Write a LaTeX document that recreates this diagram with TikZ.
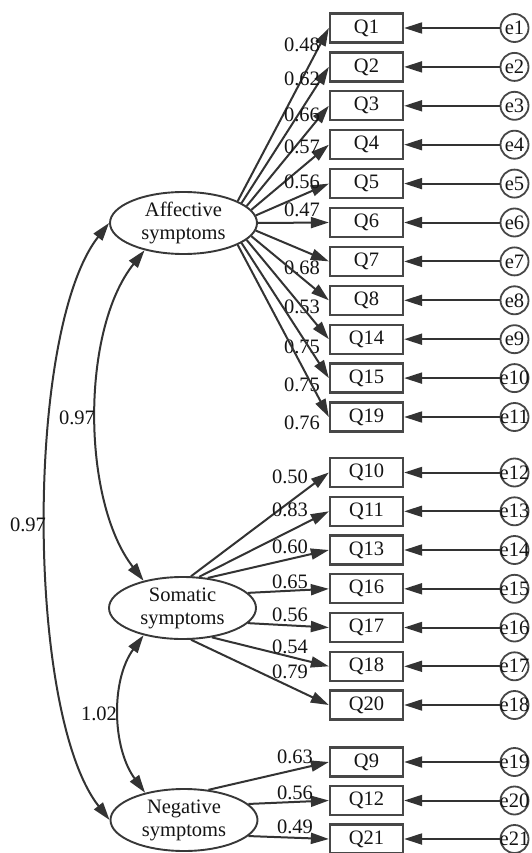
\documentclass[tikz,border=0pt]{standalone}
\usepackage{fontspec}
\setmainfont{Liberation Serif}
\usetikzlibrary{arrows.meta,shapes.geometric}
\begin{document}
\begin{tikzpicture}[x=1pt,y=-1pt,
  font=\fontsize{20.5}{22}\selectfont,
  lat/.style={ellipse,draw=black!78,line width=1.9pt,minimum width=147pt,minimum height=62pt,
    inner sep=0pt,align=center,text=black!92,font=\fontsize{20.5}{23}\selectfont},
  obs/.style={rectangle,draw=black!72,line width=2.3pt,minimum width=73pt,minimum height=29pt,
    inner sep=0pt,text=black!92},
  err/.style={circle,draw=black!72,line width=1.8pt,minimum size=28pt,inner sep=0pt,text=black!92},
  tipm/.tip={Triangle[length=18pt,width=11pt]},
  load/.style={draw=black!80,line width=2pt,-tipm},
  cov/.style={draw=black!80,line width=2pt,tipm-tipm},
  coef/.style={inner sep=0pt,text=black!92},
]
\fill[white] (0,0) rectangle (532,853);
\useasboundingbox (0,0) rectangle (532,853);

% latent factors
\node[lat] (aff) at (183.5,223) {Affective\\symptoms};
\node[lat] (som) at (182.5,608) {Somatic\\symptoms};
\node[lat] (neg) at (184,820) {Negative\\symptoms};

% affective indicators: name / y / start angle / loading / label y / error
\foreach \q/\y/\a/\v/\ly/\e in {
  Q1/28/22/0.48/45/1, Q2/66.9/19/0.62/79/2, Q3/105.8/15/0.66/115/3,
  Q4/144.7/11/0.57/147/4, Q5/183.6/6/0.56/182/5, Q6/222.5/0/0.47/210/6,
  Q7/261.4/-6/0.68/268/7, Q8/300.3/-11/0.53/307/8, Q14/339.2/-15/0.75/347/9,
  Q15/378.1/-19/0.75/385/10, Q19/417/-22/0.76/423/11}{
  \node[obs] (\q) at (366.5,\y) {\q};
  \node[err] (e\e) at (514.5,\y) {\makebox[0pt]{e\e}};
  \draw[load] (e\e) -- (\q);
  \draw[load] (aff.\a) -- (\q.west);
  \node[coef] (c\q) at (302,\ly) {\v};
}

% somatic indicators
\foreach \q/\y/\a/\v/\ly/\e in {
  Q10/472.5/75/0.50/477/12, Q11/511.3/62/0.83/510/13, Q13/550/50/0.60/547/14,
  Q16/588.8/13/0.65/582/15, Q17/627.5/-13/0.56/615/16, Q18/666.3/-45/0.54/647/17,
  Q20/705/-75/0.79/672/18}{
  \node[obs] (\q) at (366.5,\y) {\q};
  \node[err] (e\e) at (514.5,\y) {\makebox[0pt]{e\e}};
  \draw[load] (e\e) -- (\q);
  \draw[load] (som.\a) -- (\q.west);
  \node[coef] (c\q) at (290,\ly) {\v};
}

% negative indicators
\foreach \q/\y/\a/\v/\ly/\e in {
  Q9/762/51/0.63/757/19, Q12/800.5/14/0.56/793/20, Q21/839/-14/0.49/827/21}{
  \node[obs] (\q) at (366.5,\y) {\q};
  \node[err] (e\e) at (514.5,\y) {\makebox[0pt]{e\e}};
  \draw[load] (e\e) -- (\q);
  \draw[load] (neg.\a) -- (\q.west);
  \node[coef] (c\q) at (295,\ly) {\v};
}

% factor covariances
\draw[cov] (aff.west) .. controls +(-84,107) and +(-84,-107) .. (neg.west);
\draw[cov] (aff.215) .. controls +(-64,80) and +(-62,-80) .. (som.145);
\draw[cov] (som.215) .. controls +(-33,45) and +(-33,-45) .. (neg.145);

\node[coef] (rAS) at (77,418) {0.97};
\node[coef] (rAN) at (28,525) {0.97};
\node[coef] (rSN) at (99,714) {1.02};
\end{tikzpicture}
\end{document}
